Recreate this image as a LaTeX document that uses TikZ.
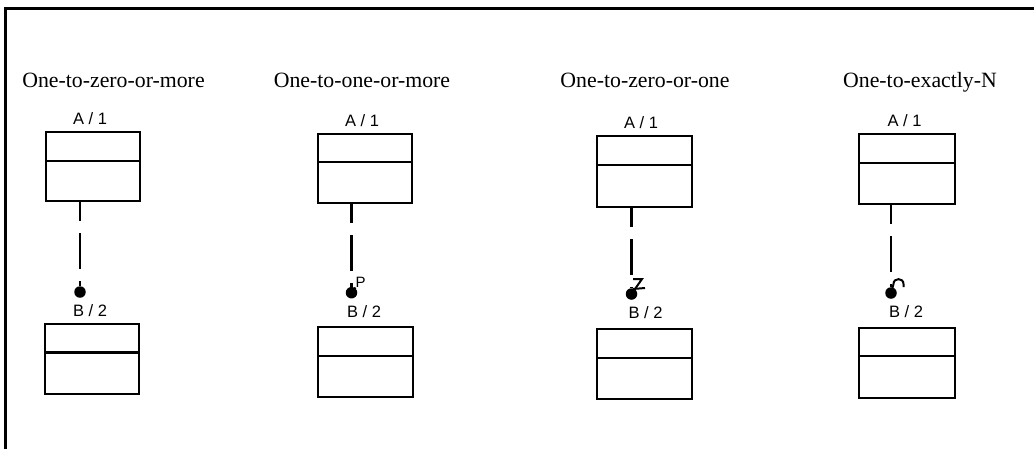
\documentclass[tikz,border=0pt]{standalone}
\usepackage{fontspec}
\setmainfont{Liberation Serif}
\newfontfamily\labelfont{Liberation Sans}
\begin{document}
\begin{tikzpicture}[x=1pt,y=-1pt,
  frameline/.style={line width=3pt},
  entity/.style={draw,line width=2.3pt,inner sep=0pt,anchor=north west},
  divider/.style={line width=2.3pt},
  title/.style={font=\fontsize{21.8}{24}\selectfont,anchor=base,inner sep=0pt},
  ename/.style={font=\labelfont\fontsize{16.5}{18}\selectfont,anchor=base,inner sep=0pt},
  card/.style={font=\labelfont\fontsize{15}{16}\selectfont,anchor=south west,inner sep=0pt},
  relline/.style={line width=2.2pt,dash pattern=on 36pt off 12pt,dash phase=17pt},
  reldot/.style={circle,fill,inner sep=0pt,minimum size=11.5pt},
  cardstroke/.style={line width=2pt}]
\useasboundingbox (0,0) rectangle (1034,448);
\clip (0,0) rectangle (1034,448);
\fill[white] (0,0) rectangle (1034,448);
\draw[frameline] (5,8) rectangle (1060,470);

% ---- One-to-zero-or-more
\node[title] (t1) at (113.5,87) {One-to-zero-or-more};
\node[ename] (n1a) at (90,124) {A / 1};
\node[entity,minimum width=94pt,minimum height=69pt] (e1a) at (45,131) {};
\draw[divider] (45,161) -- (139,161);
\node[reldot] (d1) at (80,292) {};
\draw[relline] (e1a.south -| d1) -- (d1.north);
\node[ename] (n1b) at (90,316) {B / 2};
\node[entity,minimum width=94pt,minimum height=70pt] (e1b) at (44,323) {};
\draw[divider] (44,352.5) -- (138,352.5);

% ---- One-to-one-or-more
\node[title] (t2) at (362,87) {One-to-one-or-more};
\node[ename] (n2a) at (362,126) {A / 1};
\node[entity,minimum width=94pt,minimum height=69pt] (e2a) at (317,133) {};
\draw[divider] (317,162) -- (411,162);
\node[reldot] (d2) at (351.5,292.7) {};
\draw[relline] (e2a.south -| d2) -- (d2.north);
\node[card] (p2) at (355.5,287.5) {P};
\draw[cardstroke] (d2.center) -- (p2.south west);
\node[ename] (n2b) at (364,317) {B / 2};
\node[entity,minimum width=95pt,minimum height=70pt] (e2b) at (317,326) {};
\draw[divider] (317,356) -- (412,356);

% ---- One-to-zero-or-one
\node[title] (t3) at (645,87) {One-to-zero-or-one};
\node[ename] (n3a) at (641,128) {A / 1};
\node[entity,minimum width=95pt,minimum height=71pt] (e3a) at (596,135) {};
\draw[divider] (596,165) -- (691,165);
\node[reldot] (d3) at (631.5,294) {};
\draw[relline] (e3a.south -| d3) -- (d3.north);
\coordinate (z1) at (633,279);
\coordinate (z2) at (642,279);
\coordinate (z3) at (633,289);
\coordinate (z4) at (645,288);
\draw[cardstroke] (z1) -- (z2) -- (d3.center);
\draw[cardstroke] (z3) -- (z4);
\node[ename] (n3b) at (645.5,318) {B / 2};
\node[entity,minimum width=95pt,minimum height=70pt] (e3b) at (596,328) {};
\draw[divider] (596,358) -- (691,358);

% ---- One-to-exactly-N
\node[title] (t4) at (920,87) {One-to-exactly-N};
\node[ename] (n4a) at (904.5,126) {A / 1};
\node[entity,minimum width=96pt,minimum height=70pt] (e4a) at (858,133) {};
\draw[divider] (858,163) -- (954,163);
\node[reldot] (d4) at (891,293) {};
\draw[relline] (e4a.south -| d4) -- (d4.north);
\coordinate (h1) at (893.5,284);
\coordinate (h2) at (903.5,287);
\draw[cardstroke] (d4.center) -- (h1) .. controls (893.5,277.5) and (903.5,277.5) .. (903.5,284) -- (h2);
\node[ename] (n4b) at (906,317) {B / 2};
\node[entity,minimum width=96pt,minimum height=70pt] (e4b) at (858,327) {};
\draw[divider] (858,356) -- (954,356);
\end{tikzpicture}
\end{document}
